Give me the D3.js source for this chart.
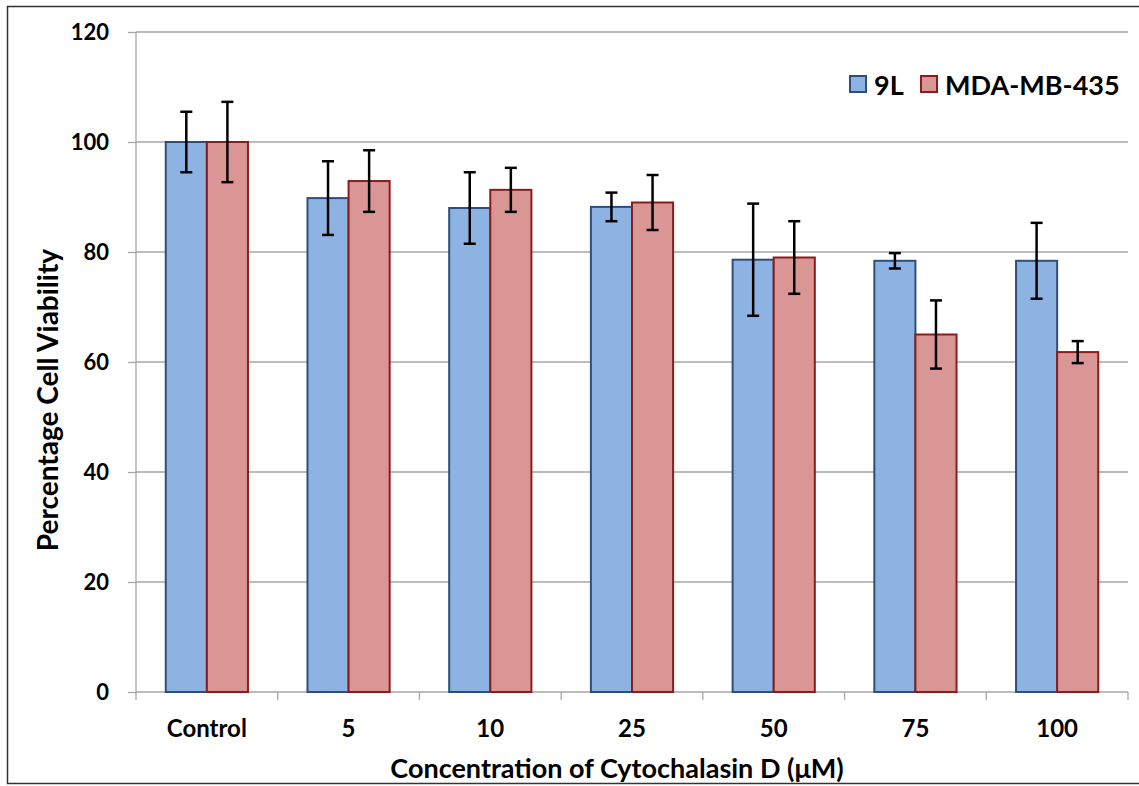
<!DOCTYPE html>
<html>
  <head>
    <title>Cell viability</title>
    <script src="https://cdn.jsdelivr.net/npm/d3@7"></script>
    <style>
      body { margin: 0; background: #fff; }
      text { font-family: Lato, "Open Sans", sans-serif; font-weight: bold; fill: #000; }
    </style>
  </head>

  <body>
    <script>
      // data
      const concentrations = ["Control", "5", "10", "25", "50", "75", "100"];
      const seriesNames = ["9L", "MDA-MB-435"];
      const viability9L = [100, 89.8, 88, 88.2, 78.6, 78.4, 78.4];
      const error9L = [5.5, 6.7, 6.5, 2.6, 10.2, 1.4, 6.9];
      const viabilityMDA = [100, 92.9, 91.3, 89, 79, 65, 61.8];
      const errorMDA = [7.3, 5.6, 4, 5, 6.6, 6.2, 2];
      const yTicks = [0, 20, 40, 60, 80, 100, 120];

      const w = 1139;
      const h = 786;
      const margin = { top: 32, right: 11, bottom: 94, left: 136 };

      const fills = ["#8db3e2", "#d99694"];
      const strokes = ["#2f4f7a", "#8c1c1c"];

      const svg = d3.select("body").append("svg")
        .attr("width", w)
        .attr("height", h);

      // outer frame (top, left, bottom)
      svg.append("path")
        .attr("d", `M${w},6.5 H7.5 V783.5 H${w}`)
        .attr("fill", "none")
        .attr("stroke", "#333")
        .attr("stroke-width", 1.5);

      const x = d3.scaleBand()
        .domain(concentrations)
        .range([margin.left, w - margin.right])
        .paddingInner(0.42)
        .paddingOuter(0.21);

      const xSub = d3.scaleBand()
        .domain(seriesNames)
        .range([0, x.bandwidth()]);

      const y = d3.scaleLinear()
        .domain([0, 120])
        .range([h - margin.bottom, margin.top]);

      // gridlines
      svg.append("g")
        .selectAll("line")
        .data(yTicks.slice(1))
        .enter()
        .append("line")
        .attr("x1", margin.left)
        .attr("x2", w - margin.right)
        .attr("y1", d => y(d))
        .attr("y2", d => y(d))
        .attr("stroke", "#a6a6a6")
        .attr("stroke-width", 1.3);

      // y axis
      const yAxis = svg.append("g")
        .attr("transform", `translate(${margin.left},0)`)
        .call(d3.axisLeft(y).tickValues(yTicks).tickSize(8).tickPadding(19));
      yAxis.selectAll("line, path").attr("stroke", "#a6a6a6").attr("stroke-width", 1.3);
      yAxis.select(".domain").attr("d", `M0,${y(0)}V${y(120)}`);
      yAxis.selectAll("text").attr("font-size", 22).attr("font-family", null);

      // x axis with ticks between categories
      const xAxis = svg.append("g")
        .attr("transform", `translate(0,${y(0)})`);
      xAxis.append("line")
        .attr("x1", margin.left)
        .attr("x2", w - margin.right)
        .attr("stroke", "#a6a6a6")
        .attr("stroke-width", 1.3);
      const step = x.step();
      xAxis.selectAll(".tick")
        .data(d3.range(concentrations.length + 1))
        .enter()
        .append("line")
        .attr("x1", i => margin.left + i * step)
        .attr("x2", i => margin.left + i * step)
        .attr("y1", 0)
        .attr("y2", 8)
        .attr("stroke", "#a6a6a6")
        .attr("stroke-width", 1.3);
      xAxis.selectAll("text")
        .data(concentrations)
        .enter()
        .append("text")
        .attr("x", d => x(d) + x.bandwidth() / 2)
        .attr("y", 45)
        .attr("text-anchor", "middle")
        .attr("font-size", 24)
        .text(d => d);

      // bars
      const rows = concentrations.map((c, i) => [
        { c: c, s: seriesNames[0], v: viability9L[i], e: error9L[i], k: 0 },
        { c: c, s: seriesNames[1], v: viabilityMDA[i], e: errorMDA[i], k: 1 }
      ]).flat();

      svg.append("g")
        .selectAll("rect")
        .data(rows)
        .enter()
        .append("rect")
        .attr("x", d => x(d.c) + xSub(d.s))
        .attr("y", d => y(d.v))
        .attr("width", xSub.bandwidth())
        .attr("height", d => y(0) - y(d.v))
        .attr("fill", d => fills[d.k])
        .attr("stroke", d => strokes[d.k])
        .attr("stroke-width", 2);

      // error bars
      const err = svg.append("g")
        .attr("stroke", "#000")
        .attr("stroke-width", 2.5);
      rows.forEach(d => {
        const cx = x(d.c) + xSub(d.s) + xSub.bandwidth() / 2;
        err.append("line")
          .attr("x1", cx).attr("x2", cx)
          .attr("y1", y(d.v + d.e)).attr("y2", y(d.v - d.e));
        [d.v + d.e, d.v - d.e].forEach(v => {
          err.append("line")
            .attr("x1", cx - 6).attr("x2", cx + 6)
            .attr("y1", y(v)).attr("y2", y(v));
        });
      });

      // legend
      const legend = svg.append("g").attr("transform", "translate(850,76)");
      const legendX = [0, 71];
      seriesNames.forEach((s, i) => {
        legend.append("rect")
          .attr("x", legendX[i])
          .attr("y", 0)
          .attr("width", 16)
          .attr("height", 16)
          .attr("fill", fills[i])
          .attr("stroke", strokes[i])
          .attr("stroke-width", 2);
        legend.append("text")
          .attr("x", legendX[i] + 24)
          .attr("y", 19)
          .attr("font-size", 27)
          .text(s);
      });

      // axis titles
      svg.append("text")
        .attr("transform", "translate(58,400) rotate(-90)")
        .attr("text-anchor", "middle")
        .attr("font-size", 28)
        .text("Percentage Cell Viability");

      svg.append("text")
        .attr("x", 617)
        .attr("y", 778)
        .attr("text-anchor", "middle")
        .attr("font-size", 27)
        .text("Concentration of Cytochalasin D (\u03BCM)");
    </script>
  </body>
</html>
